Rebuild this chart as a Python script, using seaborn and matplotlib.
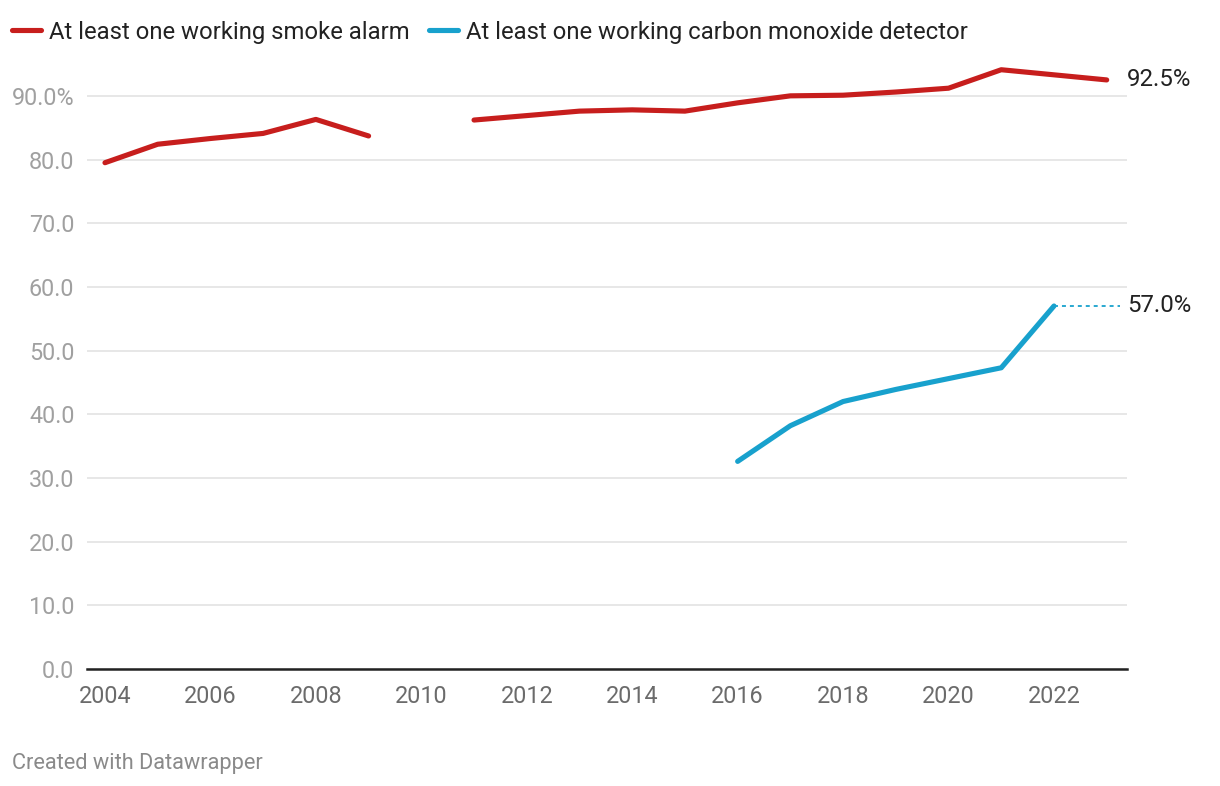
import numpy as np
import pandas as pd
import matplotlib
matplotlib.use("Agg")
import matplotlib.pyplot as plt
import matplotlib.transforms as mtransforms
from matplotlib.lines import Line2D
import seaborn as sns

# ---- data ----
smoke_years = [2004, 2005, 2006, 2007, 2008, 2009, 2011, 2012, 2013, 2014,
               2015, 2016, 2017, 2018, 2019, 2020, 2021, 2022, 2023]
smoke_values = [79.5, 82.4, 83.3, 84.1, 86.3, 83.7, 86.2, 86.9, 87.6, 87.8,
                87.6, 88.9, 90.0, 90.1, 90.6, 91.2, 94.1, 93.3, 92.5]
co_years = [2016, 2017, 2018, 2019, 2020, 2021, 2022]
co_values = [32.6, 38.2, 42.0, 43.9, 45.6, 47.3, 57.0]

series_names = ["At least one working smoke alarm",
                "At least one working carbon monoxide detector"]
y_ticks = [0, 10, 20, 30, 40, 50, 60, 70, 80, 90]
x_ticks = list(range(2004, 2023, 2))

RED = "#c71e1d"
BLUE = "#18a1cd"

# build long table; split smoke series where a year is missing (gap)
rows = []
seg = 0
prev = None
for yr, v in zip(smoke_years, smoke_values):
    if prev is not None and yr - prev > 1:
        seg += 1
    rows.append((yr, v, series_names[0], f"s{seg}"))
    prev = yr
for yr, v in zip(co_years, co_values):
    rows.append((yr, v, series_names[1], "c0"))
df = pd.DataFrame(rows, columns=["year", "value", "series", "segment"])

sns.set_theme(style="white")
plt.rcParams["font.family"] = ["Roboto", "DejaVu Sans"]

fig = plt.figure(figsize=(12.2, 7.86), dpi=100)
L, R, B = 87 / 1220, 1127 / 1220, 1 - 669 / 786
T = 1 - 64 / 786
ax = fig.add_axes([L, B, R - L, T - B])

sns.lineplot(data=df, x="year", y="value", hue="series", units="segment",
             estimator=None, palette={series_names[0]: RED, series_names[1]: BLUE},
             linewidth=3.7, ax=ax, legend=False, sort=True)
for ln in ax.get_lines():
    ln.set_solid_capstyle("round")

ax.set_xlim(2003.659, 2023.385)
ax.set_ylim(0, 95)
ax.set_xticks(x_ticks)
ax.set_xticklabels([str(x) for x in x_ticks])
ax.set_yticks(y_ticks)
ax.set_yticklabels([f"{t:.1f}%" if t == y_ticks[-1] else f"{t:.1f}" for t in y_ticks])
ax.set_xlabel("")
ax.set_ylabel("")

ax.grid(axis="y", color="#e5e5e5", linewidth=1.3)
ax.set_axisbelow(True)
for s in ["top", "right", "left"]:
    ax.spines[s].set_visible(False)
ax.spines["bottom"].set_color("#222222")
ax.spines["bottom"].set_linewidth(1.8)
ax.spines["bottom"].set_zorder(1)
ax.tick_params(axis="both", length=0)
ax.tick_params(axis="y", pad=9, labelsize=16.8, labelcolor="#a0a0a0")
ax.tick_params(axis="x", pad=11.5, labelsize=16.8, labelcolor="#6b6b6b")

# dotted connector from last CO point + end labels
end_x = smoke_years[-1] + 0.25
ax.plot([co_years[-1], end_x], [co_values[-1], co_values[-1]],
        color=BLUE, linewidth=1.3, linestyle=(0, (2.2, 2.2)))
trans = mtransforms.blended_transform_factory(ax.transAxes, ax.transData)
ax.text(1.0, smoke_values[-1], f"{smoke_values[-1]:.1f}%", transform=trans,
        ha="left", va="center", fontsize=17.3, color="#222222")
ax.text(1.0, co_values[-1], f"{co_values[-1]:.1f}%", transform=trans,
        ha="left", va="center", fontsize=17.3, color="#222222")

# legend
handles = [Line2D([0], [0], color=RED, lw=3.7, solid_capstyle="round"),
           Line2D([0], [0], color=BLUE, lw=3.7, solid_capstyle="round")]
leg = fig.legend(handles, series_names, loc="center left",
                 bbox_to_anchor=(12 / 1220, 1 - 32 / 786), ncol=2, frameon=False,
                 fontsize=17.2, handlelength=1.2, handletextpad=0.33,
                 columnspacing=0.85, borderpad=0, borderaxespad=0)
for t in leg.get_texts():
    t.set_color("#222222")

fig.text(12 / 1220, 1 - 764 / 786, "Created with Datawrapper", ha="left",
         va="center", fontsize=15.7, color="#8a8a8a")

fig.savefig("out.png", dpi=100)
